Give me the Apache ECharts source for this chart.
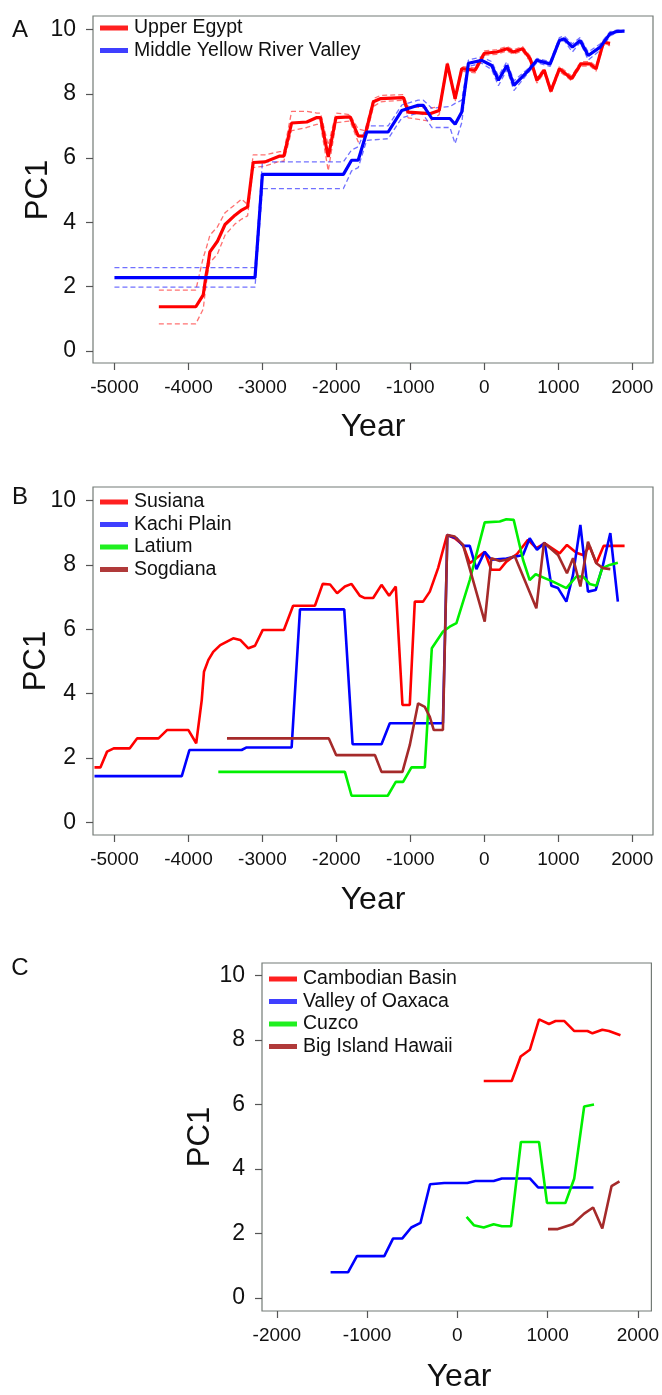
<!DOCTYPE html>
<html><head><meta charset="utf-8">
<script src="https://cdn.jsdelivr.net/npm/echarts@6/dist/echarts.min.js"></script>
<style>html,body{margin:0;padding:0;background:#fff}#c{width:662px;height:1395px}</style>
</head><body><div id="c"></div>
<script>
// ---------- Panel A ----------
const egyptYears = [-4400,-3900,-3800,-3765,-3733,-3710,-3610,-3505,-3370,-3280,-3200,-3125,-2965,-2765,-2710,-2605,-2400,-2265,-2215,-2110,-2005,-1815,-1705,-1615,-1500,-1400,-1095,-1030,-735,-610,-500,-395,-305,-125,0,170,305,395,515,620,710,810,900,1015,1180,1305,1430,1510,1610,1700];
const egyptPC1 = [1.37,1.37,1.74,2.3,2.72,3.08,3.4,3.93,4.22,4.38,4.48,5.86,5.88,6.06,6.06,7.09,7.12,7.26,7.26,6.03,7.26,7.28,6.69,6.68,7.75,7.85,7.88,7.43,7.38,7.48,8.93,7.85,8.78,8.73,9.26,9.3,9.4,9.3,9.4,9.09,8.42,8.73,8.08,8.78,8.47,8.93,8.93,8.78,9.6,9.57];
const egyptUpper = [1.89,1.89,2.9,3.15,3.4,3.6,3.85,4.3,4.55,4.72,4.55,6.1,6.1,6.2,6.2,7.45,7.45,7.4,7.4,6.4,7.4,7.35,6.9,6.85,7.85,7.95,7.97,7.6,7.55,7.6,9.0,7.95,8.85,8.8,9.33,9.37,9.47,9.37,9.47,9.17,8.5,8.8,8.15,8.85,8.55,9.0,9.0,8.86,9.66,9.62];
const egyptLower = [0.84,0.84,1.3,2.0,2.5,2.75,3.0,3.6,3.95,4.1,4.2,5.7,5.75,5.9,5.9,6.85,6.95,7.05,7.05,5.6,7.1,7.15,6.5,6.5,7.6,7.75,7.8,7.25,7.15,7.35,8.85,7.75,8.7,8.65,9.2,9.23,9.33,9.23,9.33,9.0,8.33,8.65,8.0,8.7,8.4,8.86,8.86,8.7,9.52,9.5];

const yellowYears = [-5000,-3100,-3000,-1905,-1795,-1705,-1590,-1300,-1115,-895,-825,-710,-465,-395,-305,-215,-35,100,190,305,400,575,710,890,1015,1080,1190,1295,1405,1565,1700,1790,1895];
const yellowPC1 = [2.28,2.28,5.49,5.49,5.93,5.93,6.81,6.81,7.48,7.64,7.64,7.23,7.23,7.05,7.43,8.95,9.04,8.88,8.42,8.88,8.26,8.67,9.04,8.93,9.66,9.71,9.45,9.66,9.19,9.45,9.87,9.94,9.95];
const yellowUpper = [2.59,2.59,5.88,5.88,6.25,6.35,7.0,7.0,7.65,7.8,7.8,7.55,7.6,7.7,7.8,9.05,9.15,9.0,8.55,9.0,8.4,8.75,9.1,9.0,9.75,9.8,9.55,9.75,9.3,9.55,9.93,9.98,9.97];
const yellowLower = [1.98,1.98,5.05,5.05,5.6,5.7,6.55,6.6,7.25,7.4,7.35,6.95,6.95,6.45,7.1,8.85,8.95,8.75,8.25,8.75,8.1,8.6,8.97,8.85,9.6,9.65,9.3,9.6,9.05,9.35,9.8,9.9,9.93];

// ---------- Panel B ----------
const susianaYears = [-5270,-5190,-5100,-5010,-4795,-4695,-4405,-4290,-4000,-3895,-3820,-3790,-3730,-3665,-3570,-3395,-3300,-3190,-3100,-2995,-2710,-2585,-2290,-2185,-2085,-1990,-1885,-1795,-1683,-1615,-1503,-1390,-1287,-1197,-1107,-1008,-940,-828,-737,-625,-504,-400,-288,-197,5,95,208,298,442,590,703,816,1018,1117,1244,1333,1424,1514,1612,1896];
const susianaPC1 = [1.71,1.71,2.2,2.3,2.3,2.61,2.61,2.87,2.87,2.46,3.8,4.68,5.05,5.3,5.51,5.72,5.67,5.41,5.49,5.98,5.98,6.73,6.73,7.41,7.39,7.12,7.33,7.41,7.04,6.97,6.97,7.38,7.04,7.33,3.65,3.65,6.86,6.86,7.17,7.9,8.93,8.83,8.62,8.05,8.41,7.85,7.85,8.1,8.34,8.78,8.52,8.67,8.36,8.62,8.38,8.31,8.57,8.05,8.59,8.59];

const kachiYears = [-5270,-4090,-3987,-3281,-3213,-2605,-2492,-1894,-1781,-1390,-1278,-560,-500,-377,-288,-197,-107,5,95,298,523,613,712,816,906,996,1109,1199,1298,1401,1505,1604,1703,1805];
const kachiPC1 = [1.44,1.44,2.25,2.25,2.33,2.33,6.62,6.62,2.43,2.43,3.08,3.08,8.93,8.83,8.59,8.59,7.87,8.41,8.16,8.2,8.31,8.83,8.47,8.69,7.35,7.28,6.86,7.69,9.24,7.17,7.22,8.0,8.99,6.86];

const latiumYears = [-3596,-1885,-1795,-1306,-1197,-1098,-985,-805,-710,-558,-468,-377,-197,5,208,298,397,523,613,694,816,928,1109,1244,1333,1424,1514,1595,1694,1805];
const latiumPC1 = [1.57,1.57,0.83,0.83,1.26,1.26,1.71,1.71,5.41,5.93,6.08,6.19,7.53,9.32,9.35,9.42,9.4,8.16,7.53,7.71,7.59,7.48,7.28,7.64,7.64,7.41,7.35,7.9,8.0,8.07];

const sogdianaYears = [-3479,-2102,-2002,-1478,-1390,-1107,-1008,-895,-805,-737,-683,-560,-500,-400,-288,5,95,208,298,410,703,806,996,1117,1199,1298,1401,1514,1604,1703];
const sogdianaPC1 = [2.61,2.61,2.09,2.09,1.57,1.57,2.4,3.7,3.59,3.28,2.87,2.87,8.93,8.88,8.62,6.24,8.21,8.12,8.16,8.28,6.65,8.69,8.31,7.74,8.21,7.33,8.72,8.05,7.9,7.87];

// ---------- Panel C ----------
const cambodiaYears = [292,602,701,803,905,1015,1088,1186,1296,1442,1497,1606,1679,1807];
const cambodiaPC1 = [6.73,6.73,7.49,7.7,8.64,8.5,8.59,8.59,8.28,8.28,8.21,8.32,8.28,8.15];
const oaxacaYears = [-1405,-1212,-1113,-810,-712,-610,-511,-409,-303,-146,110,200,402,493,803,894,1508];
const oaxacaPC1 = [0.8,0.8,1.3,1.3,1.85,1.85,2.19,2.33,3.53,3.57,3.57,3.63,3.63,3.71,3.71,3.43,3.43];
const cuzcoYears = [102,182,292,402,493,595,704,905,993,1197,1295,1405,1514];
const cuzcoPC1 = [2.52,2.26,2.19,2.29,2.23,2.23,4.84,4.84,2.95,2.95,3.71,5.94,6.0];
const hawaiiYears = [1004,1113,1277,1405,1504,1606,1708,1796];
const hawaiiPC1 = [2.14,2.14,2.29,2.62,2.81,2.16,3.47,3.62];

// tick labels
const xTicksAB = [-5000,-4000,-3000,-2000,-1000,0,1000,2000];
const xTicksC = [-2000,-1000,0,1000,2000];
const yTicks = [0,2,4,6,8,10];

const panelLetters = ['A','B','C'];
const seriesNamesA = ['Upper Egypt','Middle Yellow River Valley'];
const seriesNamesB = ['Susiana','Kachi Plain','Latium','Sogdiana'];
const seriesNamesC = ['Cambodian Basin','Valley of Oaxaca','Cuzco','Big Island Hawaii'];

// ---------- build ----------
const FONT = '"Liberation Sans", Arial, Helvetica, sans-serif';
const RED = '#ff0000', BLUE = '#0000ff', GREEN = '#00f000', BROWN = '#a52a2a';
const pairs = (xs, ys) => xs.map((x, i) => [x, ys[i]]);

const grids = [
  {left: 93, top: 16, width: 560, height: 347},
  {left: 93, top: 487, width: 560, height: 348},
  {left: 262, top: 963, width: 394, height: 348}
].map(g => Object.assign({show: true, borderColor: '#737b76', borderWidth: 1.2, backgroundColor: '#fff'}, g));

function xAxis(i, min, max, ticks) {
  return {type: 'value', gridIndex: i, min, max, splitLine: {show: false},
    axisLine: {show: false, onZero: false},
    axisTick: {show: true, length: 7, lineStyle: {color: '#555', width: 1.2}, customValues: ticks},
    axisLabel: {customValues: ticks, formatter: v => String(v), fontSize: 19, color: '#111', fontFamily: FONT, margin: 15}};
}
function yAxis(i, min, max) {
  return {type: 'value', gridIndex: i, min, max, splitLine: {show: false},
    axisLine: {show: false, onZero: false},
    axisTick: {show: true, length: 7, lineStyle: {color: '#555', width: 1.2}, customValues: yTicks},
    axisLabel: {customValues: yTicks, formatter: v => String(v), fontSize: 23, color: '#111', fontFamily: FONT, margin: 17}};
}

function line(name, xi, data, color, width, dashed) {
  return {name, type: 'line', xAxisIndex: xi, yAxisIndex: xi, data, showSymbol: false, symbol: 'none',
    silent: true, animation: false, clip: true,
    lineStyle: {color, width, type: dashed ? [5, 3] : 'solid', opacity: dashed ? 0.75 : 1},
    itemStyle: {color}};
}

const series = [
  line('egyptUpperCI', 0, pairs(egyptYears, egyptUpper), '#ff4040', 1.3, true),
  line('egyptLowerCI', 0, pairs(egyptYears, egyptLower), '#ff4040', 1.3, true),
  line('yellowUpperCI', 0, pairs(yellowYears, yellowUpper), '#4040ff', 1.3, true),
  line('yellowLowerCI', 0, pairs(yellowYears, yellowLower), '#4040ff', 1.3, true),
  line(seriesNamesA[0], 0, pairs(egyptYears, egyptPC1), RED, 3.2),
  line(seriesNamesA[1], 0, pairs(yellowYears, yellowPC1), BLUE, 3.2),
  line(seriesNamesB[0], 1, pairs(susianaYears, susianaPC1), RED, 2.6),
  line(seriesNamesB[1], 1, pairs(kachiYears, kachiPC1), BLUE, 2.6),
  line(seriesNamesB[2], 1, pairs(latiumYears, latiumPC1), GREEN, 2.6),
  line(seriesNamesB[3], 1, pairs(sogdianaYears, sogdianaPC1), BROWN, 2.6),
  line(seriesNamesC[0], 2, pairs(cambodiaYears, cambodiaPC1), RED, 2.6),
  line(seriesNamesC[1], 2, pairs(oaxacaYears, oaxacaPC1), BLUE, 2.6),
  line(seriesNamesC[2], 2, pairs(cuzcoYears, cuzcoPC1), GREEN, 2.6),
  line(seriesNamesC[3], 2, pairs(hawaiiYears, hawaiiPC1), BROWN, 2.6)
];

const legendColors = {'Upper Egypt': '#ff2020', 'Middle Yellow River Valley': '#3f3fff',
  'Susiana': '#ff2020', 'Kachi Plain': '#3f3fff', 'Latium': '#20f020', 'Sogdiana': '#b03a3a',
  'Cambodian Basin': '#ff2020', 'Valley of Oaxaca': '#3f3fff', 'Cuzco': '#20f020', 'Big Island Hawaii': '#b03a3a'};
function legend(names, left, top) {
  return {orient: 'vertical', left, top, icon: 'rect', itemWidth: 28, itemHeight: 5, itemGap: 0.5,
    selectedMode: false, padding: 0,
    data: names.map(n => ({name: n, itemStyle: {color: legendColors[n]}, lineStyle: {color: legendColors[n]}})),
    textStyle: {fontSize: 19.5, color: '#111', fontFamily: FONT, lineHeight: 22, padding: [0, 0, 0, 1]}};
}

function txt(text, x, y, size, rot) {
  return {type: 'text', x, y, rotation: rot || 0, silent: true,
    style: {text, fontSize: size, fontFamily: FONT, fill: '#111', textAlign: 'center', textVerticalAlign: 'middle'}};
}

const option = {
  backgroundColor: '#fff',
  animation: false,
  grid: grids,
  xAxis: [xAxis(0, -5290, 2280, xTicksAB), xAxis(1, -5290, 2280, xTicksAB), xAxis(2, -2165, 2150, xTicksC)],
  yAxis: [yAxis(0, -0.38, 10.42), yAxis(1, -0.39, 10.42), yAxis(2, -0.40, 10.39)],
  legend: [legend(seriesNamesA, 100, 17), legend(seriesNamesB, 100, 491), legend(seriesNamesC, 269, 968)],
  series,
  graphic: [
    txt(panelLetters[0], 20, 30, 24), txt(panelLetters[1], 20, 497, 24), txt(panelLetters[2], 20, 968, 24),
    txt('PC1', 38, 190, 31, Math.PI / 2), txt('PC1', 36, 661, 31, Math.PI / 2), txt('PC1', 200, 1137, 31, Math.PI / 2),
    txt('Year', 373, 427, 32), txt('Year', 373, 900, 32), txt('Year', 459, 1377, 32)
  ]
};

const chart = echarts.init(document.getElementById('c'), null, {renderer: 'canvas'});
chart.setOption(option);
</script></body></html>
